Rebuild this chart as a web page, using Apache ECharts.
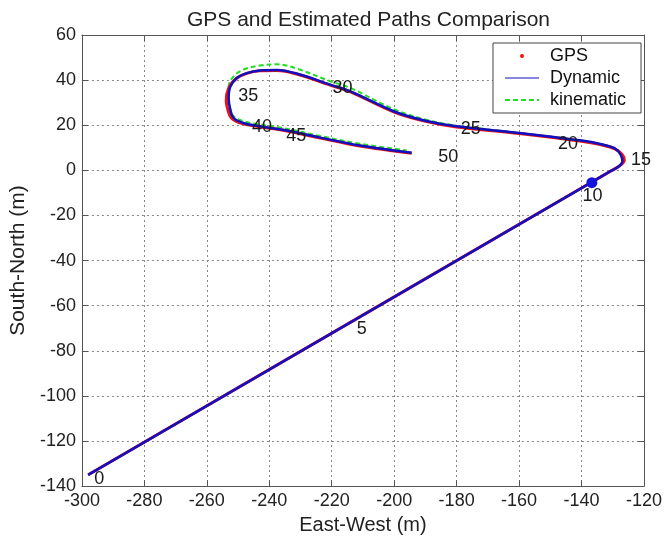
<!DOCTYPE html>
<html><head><meta charset="utf-8">
<script src="https://cdn.jsdelivr.net/npm/echarts@6/dist/echarts.min.js"></script>
<style>html,body{margin:0;padding:0;background:#fff}#c{width:665px;height:540px}</style>
</head><body><div id="c"></div>
<script>
// Dynamic estimated path (blue)
const dynX = [-298, -136.7, -131, -128, -126.9, -127.5, -129.5, -134, -140, -160, -180, -190, -200, -214, -220.5, -231, -237.5, -243, -247.2, -250.4, -252.5, -253, -252.5, -251.4, -248.3, -243.1, -235.7, -224, -211, -194.4];
const dynY = [-135, -5.2, -0.6, 1.8, 4, 7, 9.8, 11.7, 13.2, 16.6, 19.5, 22, 26.1, 35, 38, 42.8, 44.5, 44.3, 43.1, 40.9, 37, 32, 27, 23.2, 21, 19.5, 18, 14.6, 11, 7.8];
// Kinematic estimated path (green dashed)
const kinX = [-298, -136.7, -131, -128, -126.9, -127.5, -129.5, -134, -140, -160, -180, -190, -200, -214, -220.5, -231, -237.5, -243, -248, -251.2, -253, -253.2, -252.5, -251.4, -248.3, -243.1, -235.7, -224, -211, -196];
const kinY = [-135, -5.2, -0.6, 1.8, 4, 7, 9.8, 11.7, 13.2, 16.6, 19.8, 22.5, 27, 36.5, 39.5, 45, 47, 46.5, 44.8, 42, 37.5, 32, 27.5, 24, 21.8, 20.3, 18.8, 15.3, 11.8, 8.8];
// GPS path (red)
const gpsX = [-298, -136.7, -131, -128, -126.3, -127, -129.5, -134, -140, -160, -180, -190, -200, -214, -220.5, -231, -237.5, -243, -247.2, -250.6, -253, -253.8, -253.2, -252, -248.8, -243.1, -235.7, -224, -211, -194.4];
const gpsY = [-135, -5.2, -0.6, 1.8, 4.5, 7, 9.6, 11.4, 12.9, 16.3, 19.2, 21.7, 25.8, 34.8, 37.8, 42.6, 44.3, 44.1, 43, 40.7, 36.5, 31, 26.5, 23, 20.8, 19.3, 17.8, 14.4, 10.8, 7.6];
// time labels along the path
const labelText = ['0', '5', '10', '15', '20', '25', '30', '35', '40', '45', '50'];
const labelX = [-294.3, -210.2, -136.3, -120.8, -144.2, -175.3, -216.4, -246.6, -242.2, -231.2, -182.5];
const labelY = [-136.9, -70.7, -11.5, 4.4, 11.4, 18, 36.1, 32.6, 18.9, 15, 5.7];
// marker at t = 10
const markX = [-136.7];
const markY = [-5.5];
// axes
const xMin = -300, xMax = -120, xStep = 20;
const yMin = -140, yMax = 60, yStep = 20;

const FONT = "'Liberation Sans', Arial, sans-serif";
const zip = (a, b) => a.map((v, i) => [v, b[i]]);

const axisCommon = {
  axisLine: { show: true, onZero: false, lineStyle: { color: '#555', width: 1 } },
  axisTick: { show: true, inside: true, length: 6, lineStyle: { color: '#555' } }
};

const chart = echarts.init(document.getElementById('c'), null, { renderer: 'canvas' });
chart.setOption({
  animation: false,
  backgroundColor: '#fff',
  textStyle: { fontFamily: FONT },
  title: {
    text: 'GPS and Estimated Paths Comparison',
    left: 182, top: 5,
    textStyle: { fontSize: 21, fontWeight: 'normal', color: '#222', fontFamily: FONT }
  },
  grid: { left: 77, right: 15, top: 35, bottom: 52, containLabel: false },
  legend: {
    orient: 'vertical', left: 493, top: 43,
    padding: [4, 15, 4, 11],
    itemWidth: 34, itemHeight: 4, itemGap: 4,
    backgroundColor: '#fff', borderColor: '#444', borderWidth: 1,
    textStyle: { fontSize: 18, color: '#111', fontFamily: FONT, padding: [0, 0, 0, 6] },
    data: [
      { name: 'GPS', icon: 'circle' },
      { name: 'Dynamic', lineStyle: { width: 1.2 }, itemStyle: { color: 'rgba(0,0,0,0)', borderWidth: 0 } },
      { name: 'kinematic', itemStyle: { color: 'rgba(0,0,0,0)', borderWidth: 0 } }
    ]
  },
  xAxis: [
    Object.assign({
      type: 'value', min: xMin, max: xMax, interval: xStep, position: 'bottom',
      name: 'East-West (m)', nameLocation: 'middle', nameGap: 27,
      nameTextStyle: { fontSize: 20, color: '#222', fontFamily: FONT },
      axisLabel: { fontSize: 18, color: '#222', margin: 6, fontFamily: FONT },
      splitLine: { show: true, lineStyle: { color: '#888', type: [2, 3] } }
    }, axisCommon),
    Object.assign({
      type: 'value', min: xMin, max: xMax, interval: xStep, position: 'top',
      axisLabel: { show: false }, splitLine: { show: false }
    }, axisCommon)
  ],
  yAxis: [
    Object.assign({
      type: 'value', min: yMin, max: yMax, interval: yStep, position: 'left',
      name: 'South-North (m)', nameLocation: 'middle', nameGap: 45,
      nameTextStyle: { fontSize: 21, color: '#222', fontFamily: FONT },
      axisLabel: { fontSize: 18, color: '#222', margin: 6, fontFamily: FONT },
      splitLine: { show: true, lineStyle: { color: '#888', type: [2, 3] } }
    }, axisCommon),
    Object.assign({
      type: 'value', min: yMin, max: yMax, interval: yStep, position: 'right',
      axisLabel: { show: false }, splitLine: { show: false }
    }, axisCommon)
  ],
  series: [
    {
      name: 'kinematic', type: 'line', data: zip(kinX, kinY), smooth: 0.35,
      symbol: 'none', color: '#22dd22',
      lineStyle: { color: '#22dd22', width: 2, type: [5, 3] }, z: 2
    },
    {
      name: 'GPS', type: 'line', data: zip(gpsX, gpsY), smooth: 0.35,
      symbol: 'none', color: '#ee1111',
      lineStyle: { color: '#ee1111', width: 3 }, z: 3
    },
    {
      name: 'Dynamic', type: 'line', data: zip(dynX, dynY), smooth: 0.35,
      symbol: 'none', color: '#1010c0',
      lineStyle: { color: '#1010c0', width: 2.5 }, z: 4
    },
    {
      name: 'mark10', type: 'scatter', data: zip(markX, markY),
      symbol: 'circle', symbolSize: 11, itemStyle: { color: '#1414dd', opacity: 1 }, z: 5
    },
    {
      name: 'timeLabels', type: 'scatter', clip: false, z: 6, silent: true,
      data: labelText.map((t, i) => ({ value: [labelX[i], labelY[i]], name: t })),
      symbolSize: 1, itemStyle: { color: 'rgba(0,0,0,0)', opacity: 1 },
      label: {
        show: true, position: [0, 0], align: 'center', verticalAlign: 'middle',
        formatter: p => p.name, textBorderWidth: 0, opacity: 1,
        fontSize: 18, color: '#1a1a1a', fontFamily: FONT
      }
    }
  ]
});
</script>
</body></html>
